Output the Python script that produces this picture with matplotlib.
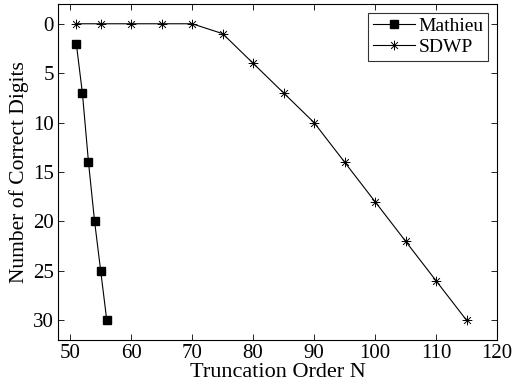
import matplotlib
matplotlib.use("Agg")
import matplotlib.pyplot as plt
from matplotlib.path import Path

plt.rcParams['font.family'] = ['Liberation Serif', 'DejaVu Serif']
plt.rcParams['font.size'] = 12

mathieu_n = [51, 52, 53, 54, 55, 56]
mathieu_digits = [2, 7, 14, 20, 25, 30]
sdwp_n = [51, 55, 60, 65, 70, 75, 80, 85, 90, 95, 100, 105, 110, 115]
sdwp_digits = [0, 0, 0, 0, 0, 1, 4, 7, 10, 14, 18, 22, 26, 30]
x_ticks = [50, 60, 70, 80, 90, 100, 110, 120]
y_ticks = [0, 5, 10, 15, 20, 25, 30]

# MATLAB style asterisk: plus and cross on top of each other
asterisk = Path(
    [(-1, 0), (1, 0), (0, -1), (0, 1),
     (-0.7, -0.7), (0.7, 0.7), (-0.7, 0.7), (0.7, -0.7)],
    [Path.MOVETO, Path.LINETO] * 4)

fig = plt.figure(figsize=(5.12, 3.9), dpi=100)
ax = fig.add_axes([58 / 512, 1 - 340 / 390, (497 - 58) / 512, (340 - 4) / 390])

ax.plot(mathieu_n, mathieu_digits, color='black', lw=0.8, marker='s',
        markersize=5.5, label='Mathieu')
ax.plot(sdwp_n, sdwp_digits, color='black', lw=0.8, marker=asterisk,
        markersize=7, markeredgewidth=0.7, label='SDWP')

ax.set_xlim(48, 120)
ax.set_ylim(32, -2)
ax.set_xticks(x_ticks)
ax.set_yticks(y_ticks)
ax.tick_params(direction='in', top=True, right=True, length=4, width=0.6,
               labelsize=15, pad=3)
for s in ax.spines.values():
    s.set_linewidth(0.8)

ax.set_xlabel('Truncation Order N', fontsize=16, labelpad=0)
ax.set_ylabel('Number of Correct Digits', fontsize=15.5, labelpad=3)

leg = ax.legend(loc='upper right', fontsize=14, frameon=True, fancybox=False,
                edgecolor='black', handlelength=2.2, borderpad=0.25,
                labelspacing=0.15, handletextpad=0.15, borderaxespad=0.45)
leg.get_frame().set_linewidth(0.8)

fig.savefig('out.png', dpi=100)
